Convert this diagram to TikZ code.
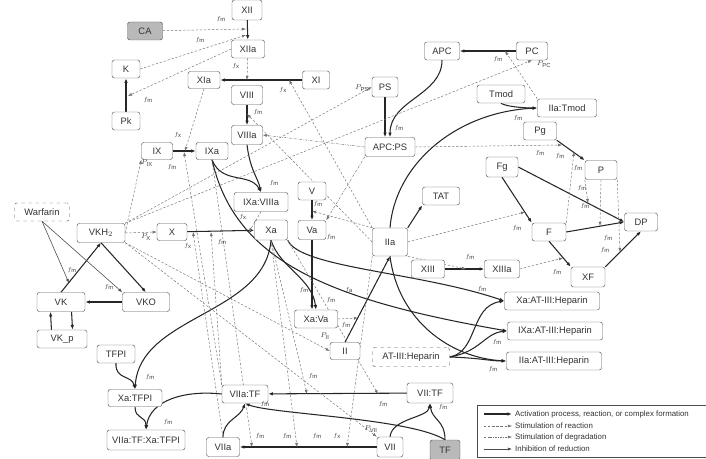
\documentclass[tikz,border=0pt]{standalone}
\usepackage{fontspec}
\setmainfont{Liberation Sans}
\usetikzlibrary{arrows.meta,backgrounds}

\begin{document}
\begin{tikzpicture}[x=0.03cm, y=-0.03cm,
  every node/.style={font=\fontsize{8}{9}\selectfont, text=black!80},
  blk/.style={draw=black!65, rounded corners=2pt, fill=white, inner sep=1pt, minimum height=0.54cm},
  wd/.style={minimum width=#1*0.03cm},
  ht/.style={minimum height=#1*0.03cm},
  act/.style={-{Latex[length=4pt,width=3pt]}, line width=0.9pt, black!85},
  stim/.style={-{Latex[length=3.5pt,width=2.6pt]}, dash pattern=on 2pt off 1.5pt, black!55, line width=0.4pt},
  degr/.style={-{Latex[length=3.5pt,width=2.6pt]}, dash pattern=on 2pt off 1pt on 0.5pt off 1pt, black!55, line width=0.4pt},
  inhib/.style={-{Latex[length=3.5pt,width=2.6pt]}, black!70, line width=0.5pt},
  flab/.style={font=\fontsize{5}{6}\selectfont, inner sep=0.5pt, text=black!75},
  plab/.style={font=\fontsize{6}{7}\selectfont, inner sep=0.5pt, text=black!75},
  legtxt/.style={anchor=west, inner sep=0pt, font=\fontsize{6.7}{8}\selectfont}]
\useasboundingbox (0,0) rectangle (706,459);

% contact and intrinsic factors
\node[blk, wd=30, ht=20] (xii) at (247,10) {XII};
\node[blk, wd=35, fill=gray!55] (ca) at (145,31) {CA};
\node[blk, wd=33] (xiia) at (248,49) {XIIa};
\node[blk, wd=28] (k) at (126,69) {K};
\node[blk, wd=28] (pk) at (126,121) {Pk};
\node[blk, wd=32, ht=17] (xia) at (204,80) {XIa};
\node[blk, wd=27] (xi) at (316,80) {XI};
\node[blk, wd=31, ht=19] (viii) at (247,95) {VIII};
\node[blk, wd=31, ht=19] (viiia) at (247,135) {VIIIa};
\node[blk, wd=31, ht=17] (ix) at (157,151) {IX};
\node[blk, wd=32, ht=17] (ixa) at (212,151) {IXa};
\node[blk, wd=54, ht=19] (ixaviiia) at (261,202) {IXa:VIIIa};
\node[blk, wd=30, ht=17] (fx) at (172,232) {X};
\node[blk, wd=33, ht=20] (xa) at (271,230) {Xa};
\node[blk, wd=28] (fv) at (312,191) {V};
\node[blk, wd=28, ht=19] (va) at (312,230) {Va};
\node[blk, wd=43] (xava) at (316,319) {Xa:Va};
\node[blk, wd=30, ht=17] (fii) at (345,351) {II};
\node[blk, wd=35, ht=28] (iia) at (390,242) {IIa};
\node[blk, wd=37] (tat) at (441,196) {TAT};
% protein C pathway
\node[blk, wd=26, ht=20] (ps) at (385,87) {PS};
\node[blk, wd=35] (apc) at (442,51) {APC};
\node[blk, wd=31] (pc) at (532,51) {PC};
\node[blk, wd=50, ht=19] (apcps) at (390,147) {APC:PS};
\node[blk, wd=48] (tmod) at (501,94) {Tmod};
\node[blk, wd=59] (iiatmod) at (567,108) {IIa:Tmod};
% fibrin and fibrinolysis
\node[blk, wd=33] (pg) at (540,131) {Pg};
\node[blk, wd=32, ht=20] (fg) at (502,167) {Fg};
\node[blk, wd=32, ht=19] (pl) at (601,170) {P};
\node[blk, wd=34] (fib) at (549,232) {F};
\node[blk, wd=33] (dp) at (641,222) {DP};
\node[blk, wd=34, ht=20] (xf) at (588,277) {XF};
\node[blk, wd=33] (xiii) at (428,269) {XIII};
\node[blk, wd=35] (xiiia) at (502,269) {XIIIa};
% antithrombin
\node[blk, wd=95] (xaat) at (552,301) {Xa:AT-III:Heparin};
\node[blk, wd=95] (ixaat) at (555,331) {IXa:AT-III:Heparin};
\node[blk, wd=95] (iiaat) at (554,361) {IIa:AT-III:Heparin};
\node[blk, wd=77, ht=19, dashed] (atiii) at (411,357) {AT-III:Heparin};
% vitamin K cycle
\node[blk, wd=55, dashed] (warf) at (42,212) {Warfarin};
\node[blk, wd=48, ht=19] (vkh) at (101,233) {VKH$_2$};
\node[blk, wd=48, ht=19] (vk) at (61,302) {VK};
\node[blk, wd=47, ht=19] (vko) at (146,302) {VKO};
\node[blk, wd=50] (vkp) at (62,339) {VK\_p};
% extrinsic factors
\node[blk, wd=38] (tfpi) at (116,354) {TFPI};
\node[blk, wd=54, ht=17] (xatfpi) at (135,398) {Xa:TFPI};
\node[blk, wd=78, ht=20] (vtx) at (146,440) {VIIa:TF:Xa:TFPI};
\node[blk, wd=46] (viiatf) at (245,394) {VIIa:TF};
\node[blk, wd=46, ht=20] (viitf) at (430,393) {VII:TF};
\node[blk, wd=33, ht=19] (viia) at (223,447) {VIIa};
\node[blk, wd=26, ht=20] (vii) at (390,447) {VII};
\node[blk, wd=30, ht=20, fill=gray!55] (tf) at (445,450) {TF};

% points on reaction arrows
\coordinate (c1a) at (246,29);
\coordinate (c1b) at (246,35);
\coordinate (c2) at (128,96);
\coordinate (c3) at (247,80);
\coordinate (c4) at (185,151);
\coordinate (c5) at (289,80);
\coordinate (c6) at (247,114);
\coordinate (c7) at (312,211);
\coordinate (c8) at (249,232);
\coordinate (c9) at (211,232);
\coordinate (c10) at (193,232);
\coordinate (c11) at (184,152);
\coordinate (c12) at (358,318);
\coordinate (c13) at (297,447);
\coordinate (c14) at (252,447);
\coordinate (c15) at (347,447);
\coordinate (c16) at (307,394);
\coordinate (c17) at (378,394);
\coordinate (c18) at (525,212);
\coordinate (c19) at (466,269);
\coordinate (c20) at (563,258);
\coordinate (c21) at (562,145);
\coordinate (c22) at (574,152);
\coordinate (c23) at (588,203);
\coordinate (c24) at (600,226);
\coordinate (c25) at (620,252);
\coordinate (c26) at (505,51);
\coordinate (cw) at (69,283);

\begin{scope}[on background layer]
% reactions and complex formation
\draw[act] (xii) -- (xiia);
\draw[act] (pk) -- (k);
\draw[act] (xi) -- (xia);
\draw[act] (viii) -- (viiia);
\draw[act] (ix) -- (ixa);
\draw[act] (fx) -- (xa);
\draw[act] (fv) -- (va);
\draw[act] (ixa.south) .. controls (222,185) and (250,172) .. (ixaviiia.north);
\draw[act] (viiia.south) .. controls (250,170) and (258,178) .. (ixaviiia.north);
\draw[act] (xa.south) .. controls (280,268) and (312,278) .. (xava.north);
\draw[act] (va.south) -- (va.south |- xava.north);
\draw[act] (fii.north) -- (iia.south);
\draw[act] (iia.north east) -- (tat.south west);
\draw[act] (iia.north) .. controls (395,165) and (455,112) .. (iiatmod.west);
\draw[act] (tmod.south) .. controls (505,106) and (520,108) .. (iiatmod.west);
\draw[act] (apc.south) .. controls (442,95) and (390,100) .. (apcps.north);
\draw[act] (ps.south) -- (ps.south |- apcps.north);
\draw[act] (pc) -- (apc);
\draw[act] (pg.south east) -- (pl.north west);
\draw[act] (fg.south) -- (fib.north west);
\draw[act] (fg.east) -- (dp.west);
\draw[act] (fib.east) -- (dp.west);
\draw[act] (fib.south) -- (xf.north west);
\draw[act] (xf.north east) -- (dp.south);
\draw[act] (xiii) -- (xiiia);
\draw[act] (ixa.south) .. controls (235,262) and (330,300) .. (ixaat.west);
\draw[act] (xa.south east) .. controls (300,268) and (420,272) .. (xaat.west);
\draw[act] (iia.south) .. controls (398,320) and (450,358) .. (iiaat.west);
\draw[act] (atiii.east) .. controls (478,352) and (470,306) .. (xaat.west);
\draw[act] (atiii.east) .. controls (480,352) and (485,333) .. (ixaat.west);
\draw[act] (atiii.east) .. controls (480,358) and (490,361) .. (iiaat.west);
\draw[act] (vk.north) -- (vkh.south);
\draw[act] (vkh.south) -- (vko.north);
\draw[act] (vko) -- (vk);
\draw[act] ([xshift=-9pt]vkp.north) -- ([xshift=-9pt]vk.south);
\draw[act] ([xshift=9pt]vk.south) -- ([xshift=9pt]vkp.north);
\draw[act] (tfpi.south) .. controls (115,380) and (132,375) .. (xatfpi.north);
\draw[act] (xa.south) .. controls (265,315) and (140,315) .. (xatfpi.north);
\draw[act] (xatfpi.south) .. controls (135,420) and (146,415) .. (vtx.north);
\draw[act] (viiatf.west) .. controls (185,390) and (150,400) .. (vtx.north);
\draw[act] (viitf) -- (viiatf);
\draw[act] (vii) -- (viia);
\draw[act] (vii.north) .. controls (392,418) and (428,418) .. (viitf.south);
\draw[act] (tf.north) .. controls (445,420) and (432,420) .. (viitf.south);
\draw[act] (viia.north) .. controls (223,420) and (240,418) .. (viiatf.south);
\draw[act] (tf.north) .. controls (410,418) and (270,414) .. (viiatf.south);
% warfarin
\draw[inhib] (warf.south) -- (cw);
\draw[inhib] (warf.south) -- (vko.north west);
% stimulation of reactions
\draw[stim] (ca) -- (c1a);
\draw[stim] (k.east) -- (c1b);
\draw[stim] (xiia.west) -- (c2);
\draw[stim] (xiia) -- (c3);
\draw[stim] (xia.south) -- (c4);
\draw[stim] (iia.north west) -- (c5);
\draw[stim] (iia.west) -- (c6);
\draw[stim] (iia.north west) -- (c7);
\draw[stim] (ixaviiia.south) -- (c8);
\draw[stim] (viiatf.north west) -- (c9);
\draw[stim] (viia.north) -- (c10);
\draw[stim] (viiatf.north west) -- (c11);
\draw[stim] (xava.east) -- (c12);
\draw[stim] (xa.south) -- (c13);
\draw[stim] (ixa.south) -- (c14);
\draw[stim] (iia.south west) -- (c15);
\draw[stim] (xa.south) -- (c16);
\draw[stim] (xa.south east) -- (c17);
\draw[stim] (iia.east) -- (c18);
\draw[stim] (iia.south east) -- (c19);
\draw[stim] (xiiia.east) -- (c20);
\draw[stim] (apcps.east) -- (c21);
\draw[stim] (fib.north east) -- (c22);
\draw[stim] (pl.south west) -- (c23);
\draw[stim] (pl.south) -- (c24);
\draw[stim] (pl.south east) -- (c25);
\draw[stim] (iiatmod.north west) -- (c26);
% synthesis with VKH2
\draw[stim] (vkh.east) -- (ix.south west);
\draw[stim] (vkh.east) -- (fx.west);
\draw[stim] (vkh.north east) -- (ps.west);
\draw[stim] (vkh.north east) -- (pc.south);
\draw[stim] (vkh.south east) -- (fii.west);
\draw[stim] (vkh.south east) -- (vii.north west);
% degradation
\draw[degr] (apcps.west) -- (viiia.east);
\draw[degr] (apcps.south west) -- (va.north east);
\end{scope}

% rate labels
\foreach \px/\py/\s [count=\i] in {221/19/m, 200/40/m, 148/100/m, 236/66/x, 283/90/x, 178/135/x,
    172/167/m, 258/112/m, 274/183/m, 331/237/m, 318/204/m, 243/217/x, 188/246/x, 222/242/m,
    304/290/m, 331/300/m, 349/290/a, 346/325/m, 399/128/m, 498/59/m, 518/118/m, 540/153/m,
    560/156/m, 578/168/m, 582/188/m, 585/206/m, 608/238/m, 605/250/m, 517/228/m, 470/257/m,
    557/272/m, 482/289/m, 497/342/m, 493/369/m, 150/377/m, 168/422/m, 313/376/m, 383/404/m,
    260/436/m, 287/436/m, 317/436/m, 337/436/x, 443/407/m, 265/404/m, 72/270/m, 109/287/m}
  \node[flab] (fl\i) at (\px,\py) {$f_{\mathrm{\s}}$};
\node[plab] (pix) at (147,163) {$P_{\mathrm{IX}}$};
\node[plab] (px) at (146,237) {$P_{\mathrm{X}}$};
\node[plab] (pps) at (362,88) {$P_{\mathrm{PS}}$};
\node[plab] (ppc) at (544,64) {$P_{\mathrm{PC}}$};
\node[plab] (pii) at (325,336) {$P_{\mathrm{II}}$};
\node[plab] (pvii) at (371,429) {$P_{\mathrm{VII}}$};

% legend
\draw[black!70, line width=0.6pt] (477,405) rectangle (720,457);
\coordinate (la1) at (484,414); \coordinate (lb1) at (512,414);
\coordinate (la2) at (484,426); \coordinate (lb2) at (512,426);
\coordinate (la3) at (484,437); \coordinate (lb3) at (512,437);
\coordinate (la4) at (484,449); \coordinate (lb4) at (512,449);
\draw[act] (la1) -- (lb1);
\draw[stim] (la2) -- (lb2);
\draw[degr] (la3) -- (lb3);
\draw[inhib] (la4) -- (lb4);
\node[legtxt] (lt1) at (515,414) {Activation process, reaction, or complex formation};
\node[legtxt] (lt2) at (515,426) {Stimulation of reaction};
\node[legtxt] (lt3) at (515,437) {Stimulation of degradation};
\node[legtxt] (lt4) at (515,449) {Inhibition of reduction};
\end{tikzpicture}
\end{document}
